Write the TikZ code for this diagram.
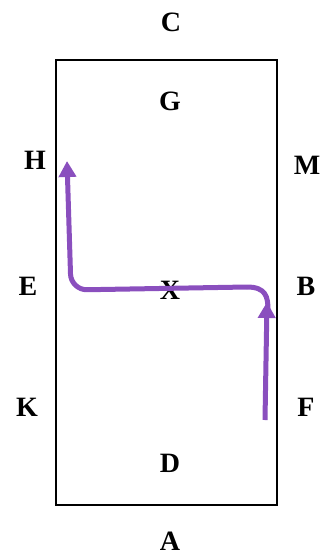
\documentclass[tikz,border=0pt]{standalone}
\usepackage{fontspec}
\setmainfont{Liberation Serif}
\usetikzlibrary{arrows.meta}
\definecolor{route}{HTML}{8A4FBE}
\tikzset{
  letter/.style={font=\fontsize{28}{28}\selectfont\bfseries, inner sep=0pt},
  arena/.style={draw, line width=2.5pt},
  track/.style={route, line width=5pt},
  tip/.style={-{Triangle[length=16pt, width=17pt]}},
}

\begin{document}
\begin{tikzpicture}[x=1pt, y=-1pt]
\useasboundingbox (0,0) rectangle (321,557);

% arena
\draw[arena] (56,60) rectangle (277,505);

% letters round the arena
\node[letter] (C) at (171,22) {C};
\node[letter] (G) at (170,101) {G};
\node[letter] (H) at (35,160) {H};
\node[letter] (M) at (307,165) {M};
\node[letter] (E) at (28,286) {E};
\node[letter] (X) at (170,290) {X};
\node[letter] (B) at (306,286) {B};
\node[letter] (K) at (27,407) {K};
\node[letter] (F) at (306,407) {F};
\node[letter] (D) at (170,463) {D};
\node[letter] (A) at (170,541) {A};

% the route
\coordinate (r0) at (247,287);
\coordinate (r1) at (71,290);
\coordinate (r2) at (67,161);
\coordinate (s0) at (265,420);
\coordinate (s1) at (267,302);
\draw[track, tip, rounded corners=16pt] (r0) -- (r1) -- (r2);
\draw[track] (r0) .. controls (266,287) and (268,297) .. (268,310);
\draw[track, tip] (s0) -- (s1);

\end{tikzpicture}
\end{document}
